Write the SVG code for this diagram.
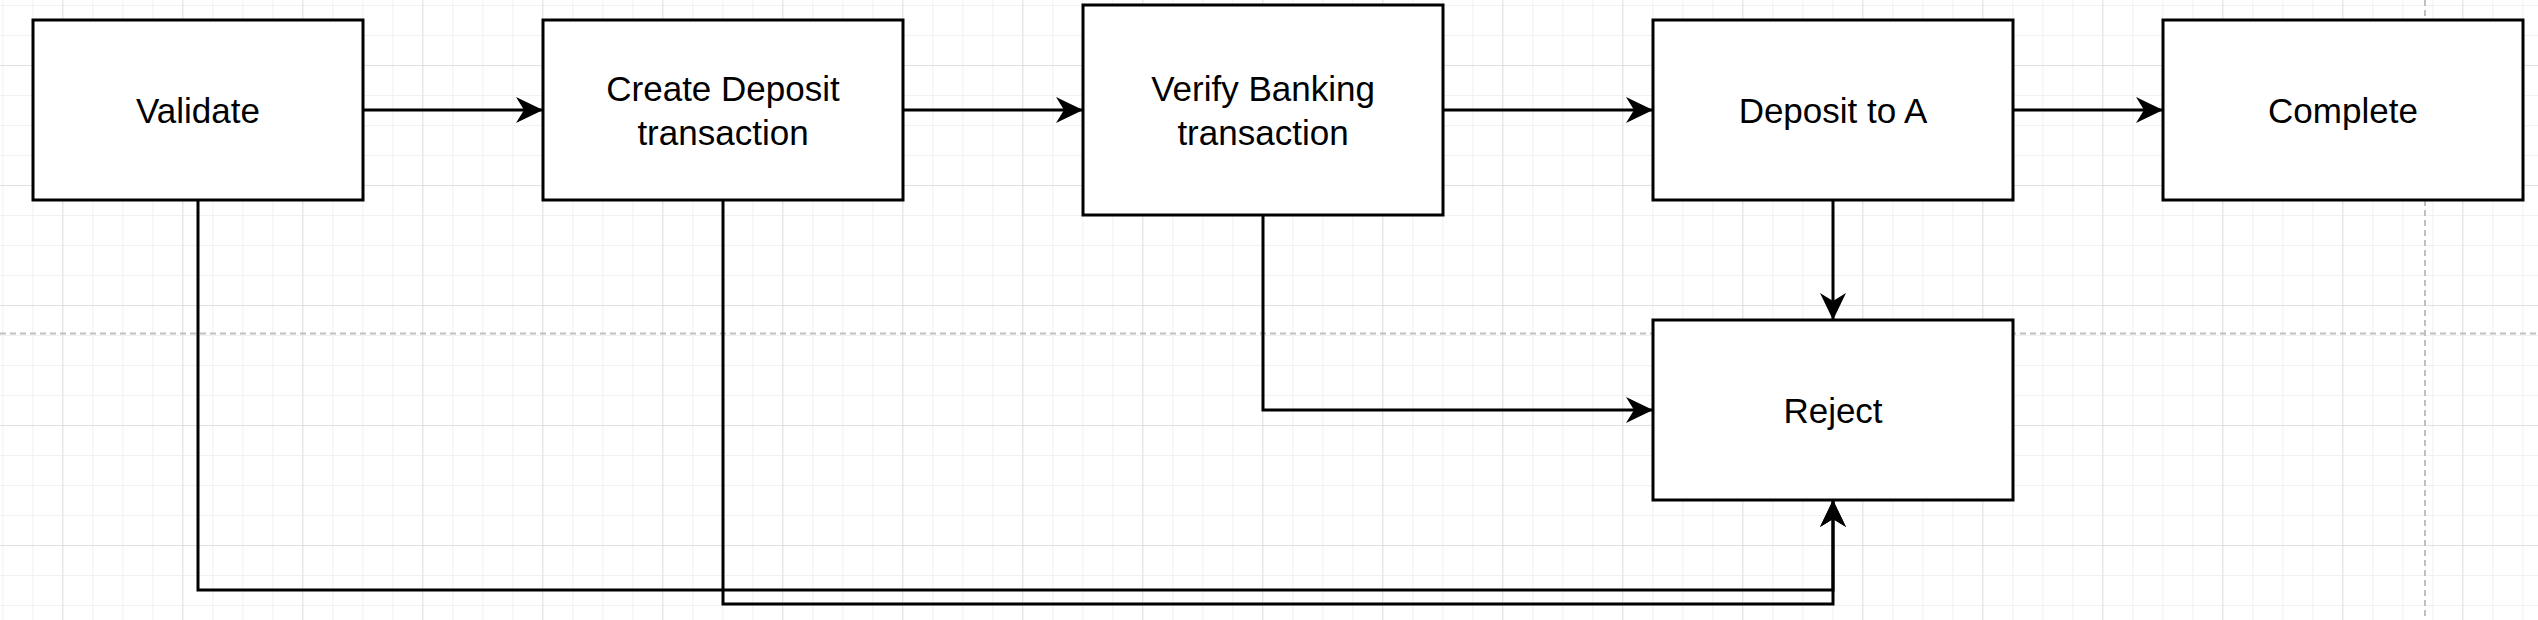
<svg xmlns="http://www.w3.org/2000/svg" width="2538" height="620" viewBox="0 0 2538 620">
<style>
.node rect{fill:#ffffff;stroke:#000000;stroke-width:3}
.node text{font-family:"Liberation Sans",Arial,Helvetica,sans-serif;font-size:35px;fill:#000000;text-anchor:middle}
.edge{fill:none;stroke:#000000;stroke-width:3;marker-end:url(#arrow)}
.guide{stroke:#c0c0c0;stroke-width:2;stroke-dasharray:6 4;fill:none}
</style>
<defs>
<pattern id="minor" patternUnits="userSpaceOnUse" x="2.3" y="5" width="30" height="30">
<path d="M0,0 V30 M0,0 H30" stroke="#f1f1f1" stroke-width="2" fill="none"/>
</pattern>
<pattern id="major" patternUnits="userSpaceOnUse" x="62.3" y="65" width="120" height="120">
<path d="M0,0 V120 M0,0 H120" stroke="#d2d2d2" stroke-width="1.2" fill="none"/>
</pattern>
<marker id="arrow" markerUnits="userSpaceOnUse" viewBox="0 0 27 26" refX="27" refY="13" markerWidth="27" markerHeight="26" orient="auto">
<path d="M0,0 L27,13 L0,26 L8,13 Z" fill="#000000"/>
</marker>
</defs>
<g id="background">
<rect x="0" y="0" width="2538" height="620" fill="#ffffff"/>
<rect x="0" y="0" width="2538" height="620" fill="url(#minor)"/>
<rect x="0" y="0" width="2538" height="620" fill="url(#major)"/>
<path class="guide" d="M0,333.5 H2538"/>
<path class="guide" d="M2425,0 V620"/>
</g>
<g id="node-validate" class="node">
<rect x="33" y="20" width="330" height="180"/>
<text x="198" y="123">Validate</text>
</g>
<g id="node-create-deposit" class="node">
<rect x="543" y="20" width="360" height="180"/>
<text x="723" y="101">Create Deposit</text>
<text x="723" y="145">transaction</text>
</g>
<g id="node-verify-banking" class="node">
<rect x="1083" y="5" width="360" height="210"/>
<text x="1263" y="101">Verify Banking</text>
<text x="1263" y="145">transaction</text>
</g>
<g id="node-deposit-to-a" class="node">
<rect x="1653" y="20" width="360" height="180"/>
<text x="1833" y="123">Deposit to A</text>
</g>
<g id="node-complete" class="node">
<rect x="2163" y="20" width="360" height="180"/>
<text x="2343" y="123">Complete</text>
</g>
<g id="node-reject" class="node">
<rect x="1653" y="320" width="360" height="180"/>
<text x="1833" y="423">Reject</text>
</g>
<g id="connectors">
<path class="edge" d="M363,110 H543"/>
<path class="edge" d="M903,110 H1083"/>
<path class="edge" d="M1443,110 H1653"/>
<path class="edge" d="M2013,110 H2163"/>
<path class="edge" d="M1833,200 V320"/>
<path class="edge" d="M1263,215 V410 H1653"/>
<path class="edge" d="M198,200 V590 H1833 V500"/>
<path class="edge" d="M723,200 V604 H1833 V500"/>
</g>
</svg>
